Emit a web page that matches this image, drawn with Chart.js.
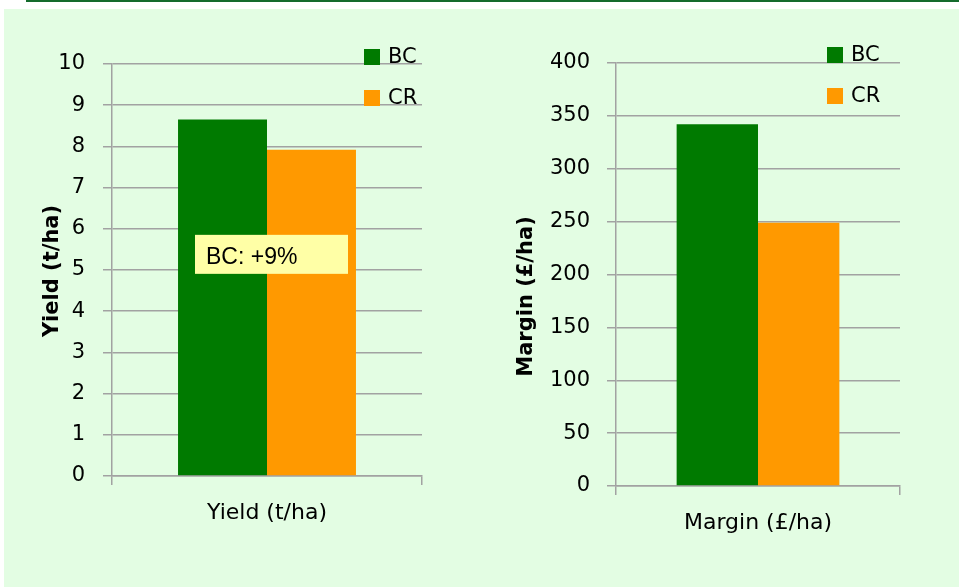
<!DOCTYPE html>
<html>
<head>
<meta charset="utf-8">
<script src="https://cdn.jsdelivr.net/npm/chart.js@4.4.1/dist/chart.umd.min.js"></script>
<style>
  html, body { margin: 0; padding: 0; background: #ffffff; width: 959px; height: 587px; overflow: hidden; }
  #rule { position: absolute; left: 26px; top: 0; width: 933px; height: 2px; background: #146b2c; }
  #panel { position: absolute; left: 4px; top: 9px; width: 955px; height: 578px; background: #e3fde3; }
  canvas { position: absolute; top: 0; }
  #yieldChart { left: 0; }
  #marginChart { left: 480px; }
</style>
</head>
<body>
<div id="rule"></div>
<div id="panel"></div>
<canvas id="yieldChart" width="480" height="587"></canvas>
<canvas id="marginChart" width="479" height="587"></canvas>
<script>
// Series and categories
const seriesNames = ['BC', 'CR'];
const seriesColors = ['#007a00', '#ff9900'];

const yieldCategories = ['Yield (t/ha)'];
const yieldBC = [8.65];
const yieldCR = [7.92];
const yieldTicks = [0, 1, 2, 3, 4, 5, 6, 7, 8, 9, 10];

const marginCategories = ['Margin (£/ha)'];
const marginBC = [342];
const marginCR = [249];
const marginTicks = [0, 50, 100, 150, 200, 250, 300, 350, 400];

const yieldNote = 'BC: +9%';

const FONT = "'DejaVu Sans', sans-serif";
const GRID = '#a2a2a2';

// Legend drawn as two stacked swatches near the top-right of the plot
const swatchLegend = {
  id: 'swatchLegend',
  afterDraw(chart, args, opts) {
    const ctx = chart.ctx;
    const area = chart.chartArea;
    ctx.save();
    ctx.font = '21px ' + FONT;
    ctx.textBaseline = 'middle';
    ctx.textAlign = 'left';
    chart.data.datasets.forEach((ds, i) => {
      const x = area.right - opts.fromRight;
      const y = area.top - opts.above + i * 41;
      ctx.fillStyle = ds.backgroundColor;
      ctx.fillRect(x, y, 16, 16);
      ctx.fillStyle = '#000';
      ctx.fillText(ds.label, x + 24, y + 9);
    });
    ctx.restore();
  }
};

// Rotated value-axis title, centred beside the axis with an optional shift
const sideTitle = {
  id: 'sideTitle',
  afterDraw(chart, args, opts) {
    if (!opts.text) return;
    const ctx = chart.ctx;
    const area = chart.chartArea;
    ctx.save();
    ctx.translate(opts.x, (area.top + area.bottom) / 2 + (opts.dy || 0));
    ctx.rotate(-Math.PI / 2);
    ctx.font = 'bold 21px ' + FONT;
    ctx.fillStyle = '#000';
    ctx.textAlign = 'center';
    ctx.textBaseline = 'middle';
    ctx.fillText(opts.text, 0, 0);
    ctx.restore();
  }
};

// Callout box placed against the scales
const noteBox = {
  id: 'noteBox',
  afterDatasetsDraw(chart, args, opts) {
    if (!opts.text) return;
    const ctx = chart.ctx;
    const xs = chart.scales.x, ys = chart.scales.y;
    const cx = xs.getPixelForValue(0) + opts.dx;
    const cy = ys.getPixelForValue(opts.atValue);
    const w = 153, h = 39;
    ctx.save();
    ctx.fillStyle = '#ffffa6';
    ctx.fillRect(cx - w / 2, cy - h / 2, w, h);
    ctx.fillStyle = '#000';
    ctx.font = "23px 'Liberation Sans', Arial, sans-serif";
    ctx.textBaseline = 'alphabetic';
    ctx.textAlign = 'left';
    ctx.fillText(opts.text, cx - w / 2 + 11, cy + 9.5);
    ctx.restore();
  }
};

function makeChart(id, cfg) {
  return new Chart(document.getElementById(id), {
    type: 'bar',
    data: {
      labels: cfg.labels,
      datasets: [
        { label: seriesNames[0], data: cfg.bc, backgroundColor: seriesColors[0] },
        { label: seriesNames[1], data: cfg.cr, backgroundColor: seriesColors[1] }
      ]
    },
    options: {
      responsive: false,
      animation: false,
      events: [],
      layout: { padding: { top: cfg.top, right: cfg.right, bottom: 0, left: 0 } },
      datasets: { bar: { categoryPercentage: cfg.catPct, barPercentage: 1, borderWidth: 0 } },
      plugins: {
        legend: { display: false },
        tooltip: { enabled: false },
        swatchLegend: cfg.legend,
        sideTitle: { text: cfg.labels[0], x: cfg.titleX, dy: cfg.titleDy },
        noteBox: cfg.note || {}
      },
      scales: {
        x: {
          offset: true,
          grid: { display: true, offset: true, drawOnChartArea: false, drawTicks: true, tickLength: 9, color: GRID, lineWidth: 1.5 },
          border: { display: true, color: GRID, width: 1.5 },
          ticks: { color: '#000', padding: 15, font: { family: FONT, size: 22 } },
          afterFit(s) { s.height = 587 - cfg.bottom; }
        },
        y: {
          min: cfg.ticks[0],
          max: cfg.ticks[cfg.ticks.length - 1],
          afterBuildTicks(s) { s.ticks = cfg.ticks.map(v => ({ value: v })); },
          grid: { color: GRID, lineWidth: 1.5, drawTicks: true, tickLength: 9 },
          border: { display: true, color: GRID, width: 1.5 },
          ticks: { color: '#000', padding: cfg.tickPad, font: { family: FONT, size: 21 } },
          afterFit(s) { s.width = cfg.left; }
        }
      }
    },
    plugins: [swatchLegend, sideTitle, noteBox]
  });
}

makeChart('yieldChart', {
  labels: yieldCategories, bc: yieldBC, cr: yieldCR, ticks: yieldTicks,
  top: 64, bottom: 476, left: 112, right: 58, catPct: 0.574,
  tickPad: 18, titleX: 53, titleDy: 1,
  legend: { fromRight: 58, above: 15 },
  note: { text: yieldNote, atValue: 5.38, dx: 4.5 }
});

makeChart('marginChart', {
  labels: marginCategories, bc: marginBC, cr: marginCR, ticks: marginTicks,
  top: 63, bottom: 486, left: 136, right: 59, catPct: 0.573,
  tickPad: 17, titleX: 47, titleDy: 22,
  legend: { fromRight: 73, above: 16 }
});
</script>
</body>
</html>
